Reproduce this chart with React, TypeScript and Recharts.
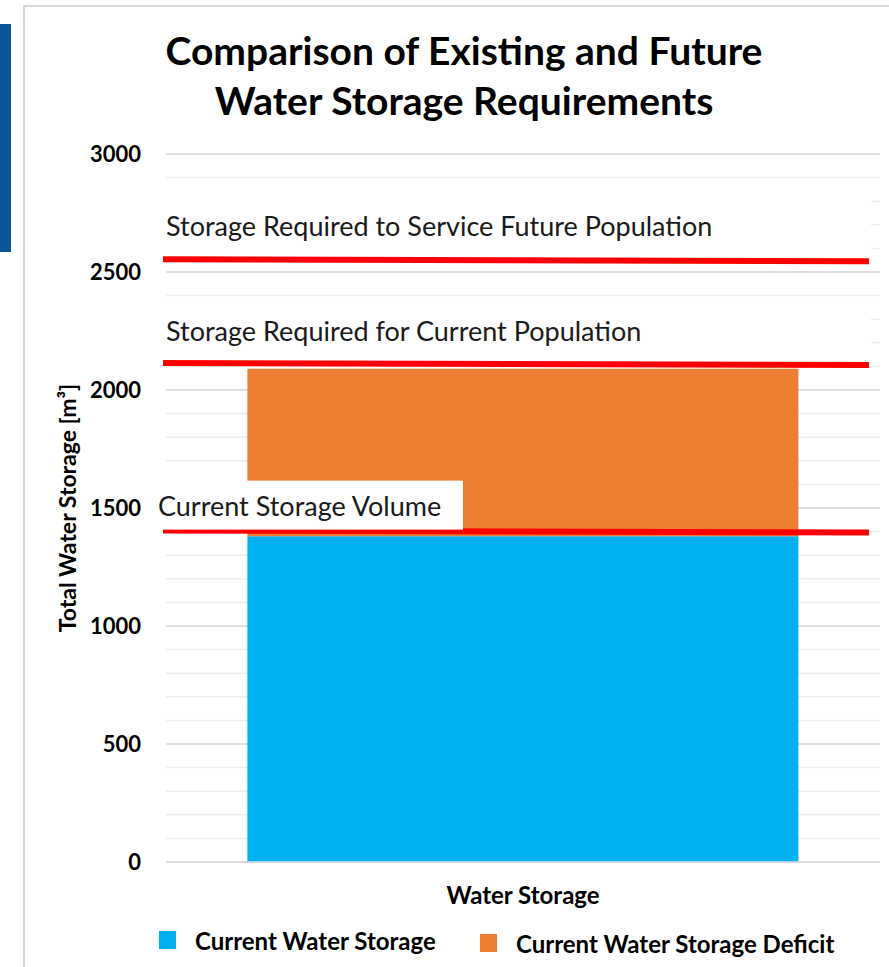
import { BarChart, Bar, XAxis, YAxis, CartesianGrid, ReferenceLine } from "recharts";

const categories = ["Water Storage"];
const currentStorage = [1380];
const storageDeficit = [710];
const majorTicks = [0, 500, 1000, 1500, 2000, 2500, 3000];
const minorTicks = [0, 100, 200, 300, 400, 500, 600, 700, 800, 900, 1000, 1100, 1200, 1300, 1400, 1500, 1600, 1700, 1800, 1900, 2000, 2100, 2200, 2300, 2400, 2500, 2600, 2700, 2800, 2900, 3000];
const refValues = [2550, 2110, 1400];
const refLabels = [
  "Storage Required to Service Future Population",
  "Storage Required for Current Population",
  "Current Storage Volume",
];
const seriesNames = ["Current Water Storage", "Current Water Storage Deficit"];
const seriesColors = ["#00B0F0", "#ED7D31"];

const FONT = "Lato, 'Open Sans', sans-serif";

const data = categories.map((c, i) => ({
  name: c,
  storage: currentStorage[i],
  deficit: storageDeficit[i],
}));

// white text box sitting above each red line
const boxes = [
  { bx: -6, by: -75, bw: 711, bh: 70, tx: 0, ty: -24.5 },
  { bx: -6, by: -61, bw: 711, bh: 57, tx: 0, ty: -23.5 },
  { bx: -14, by: -51, bw: 311, bh: 49, tx: -8, ty: -16 },
];

function NoteLabel(props: any) {
  const { viewBox, text, idx } = props;
  const b = boxes[idx];
  const x = viewBox.x;
  const y = viewBox.y;
  return (
    <g>
      <rect x={x + b.bx} y={y + b.by} width={b.bw} height={b.bh} fill="#fff" />
      <text x={x + b.tx} y={y + b.ty} fontFamily={FONT} fontSize={27} fill="#1a1a1a">
        {text}
      </text>
    </g>
  );
}

const redLine = (p: any) => (
  <line x1={p.x1 - 3} y1={p.y1 - 1} x2={p.x2 - 11} y2={p.y2 + 1} stroke="#FF0000" strokeWidth={6} />
);

export default function App() {
  return (
    <div style={{ position: "absolute", left: 0, top: 0, width: 889, height: 967, overflow: "hidden", background: "#fff", fontFamily: FONT }}>
      <div style={{ position: "absolute", left: 0, top: 24, width: 11, height: 228, background: "#0C5596" }} />
      <div style={{ position: "absolute", left: 23, top: 5, width: 900, height: 1000, border: "2px solid #d9d9d9", boxSizing: "border-box" }} />
      <div style={{ position: "absolute", left: 64, top: 25, width: 800, textAlign: "center", fontWeight: 700, fontSize: 39, lineHeight: "50px", color: "#000" }}>
        Comparison of Existing and Future
        <br />
        Water Storage Requirements
      </div>
      <div style={{ position: "absolute", left: 0, top: 0 }}>
        <BarChart width={889} height={967} data={data} margin={{ top: 154, right: 9, bottom: 45, left: 66 }} barCategoryGap="11.4%">
          <CartesianGrid vertical={false} horizontalValues={minorTicks} stroke="#ededed" strokeWidth={1.5} />
          <CartesianGrid vertical={false} horizontalValues={majorTicks} stroke="#d9d9d9" strokeWidth={1.5} />
          <XAxis
            dataKey="name"
            axisLine={{ stroke: "#d9d9d9", strokeWidth: 1.5 }}
            tickLine={false}
            tickSize={0}
            tickMargin={25}
            height={60}
            tick={{ fontFamily: FONT, fontSize: 24, fontWeight: 700, fill: "#000" }}
          />
          <YAxis
            type="number"
            domain={[0, 3000]}
            ticks={majorTicks}
            width={100}
            axisLine={false}
            tickLine={false}
            tickSize={0}
            tickMargin={25}
            tick={{ fontFamily: FONT, fontSize: 22, fontWeight: 700, fill: "#000" }}
            label={{
              value: "Total Water Storage [m³]",
              angle: -90,
              position: "insideLeft",
              offset: 2,
              style: { textAnchor: "middle", fontFamily: FONT, fontSize: 23, fontWeight: 700, fill: "#000" },
            }}
          />
          <Bar dataKey="storage" stackId="a" fill={seriesColors[0]} isAnimationActive={false} name={seriesNames[0]} />
          <Bar dataKey="deficit" stackId="a" fill={seriesColors[1]} isAnimationActive={false} name={seriesNames[1]} />
          {refValues.map((v, i) => (
            <ReferenceLine key={i} y={v} shape={redLine} label={<NoteLabel text={refLabels[i]} idx={i} />} />
          ))}
        </BarChart>
      </div>
      {/* legend */}
      <div style={{ position: "absolute", left: 159, top: 931, width: 17, height: 18, background: seriesColors[0] }} />
      <div style={{ position: "absolute", left: 195, top: 927, fontSize: 24, fontWeight: 700, lineHeight: "28px", color: "#000" }}>{seriesNames[0]}</div>
      <div style={{ position: "absolute", left: 480, top: 934, width: 17, height: 18, background: seriesColors[1] }} />
      <div style={{ position: "absolute", left: 516, top: 930, fontSize: 24, fontWeight: 700, lineHeight: "28px", color: "#000" }}>{seriesNames[1]}</div>
    </div>
  );
}
